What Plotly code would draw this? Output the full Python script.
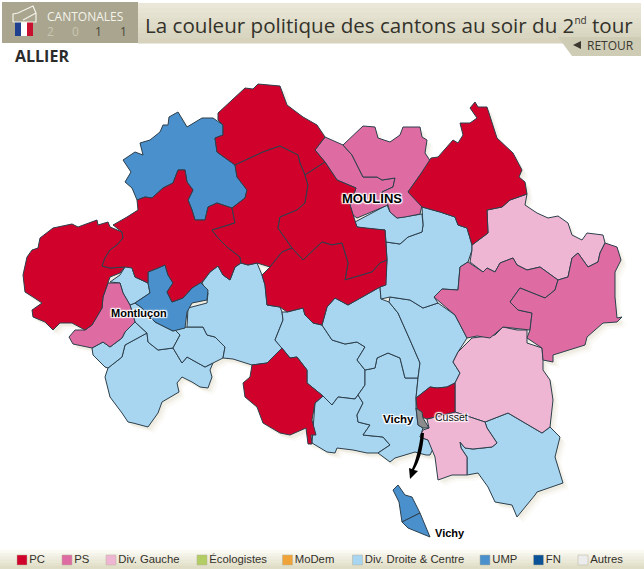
import plotly.graph_objects as go

# couleurs par nuance
PC = "#d0022b"
PS = "#de6ca3"
DVG = "#efb6d4"
ECO = "#b1cd63"
MODEM = "#efa338"
DVD = "#a8d5f0"
UMP = "#4a90cc"
FN = "#0b5296"
AUTRES = "#ececec"
VICHY_GRIS = "#8c8c8c"

# contours des cantons (x, y en pixels)
rouge_ouest = [(53,228),(72,224),(78,227),(97,220),(98,225),(108,222),(110,227),(122,232),(123,238),(117,245),(110,250),(105,258),(102,266),(110,268),(125,267),(120,273),(110,277),(108,283),(103,297),(102,308),(92,325),(85,330),(72,323),(60,323),(53,330),(45,322),(33,317),(32,310),(42,303),(33,297),(25,292),(23,275),(27,257),(32,250),(38,248),(40,238)]
rouge_centre_ouest = [(137,200),(138,210),(127,217),(113,225),(122,232),(123,238),(117,245),(110,250),(105,258),(102,266),(110,268),(125,267),(132,268),(135,277),(148,283),(148,272),(158,268),(165,265),(168,275),(173,283),(167,292),(172,302),(183,298),(192,288),(202,282),(210,272),(218,266),(223,275),(230,280),(235,267),(241,263),(240,257),(227,247),(218,238),(212,230),(227,225),(235,223),(232,208),(217,203),(208,207),(205,220),(195,220),(192,210),(188,200),(193,190),(187,182),(185,170),(178,170),(173,183),(163,188),(152,198),(145,197)]
ump_nord = [(178,112),(187,127),(202,118),(213,118),(223,125),(223,135),(215,138),(217,152),(235,165),(237,177),(247,190),(245,198),(232,208),(217,203),(208,207),(205,220),(195,220),(192,210),(188,200),(193,190),(187,182),(185,170),(178,170),(173,183),(163,188),(152,198),(145,197),(137,200),(132,188),(125,182),(131,172),(123,160),(135,152),(143,155),(140,143),(150,140),(160,132),(163,125),(168,125),(169,117)]
rouge_nord = [(218,113),(230,102),(245,88),(253,89),(258,84),(280,86),(283,95),(287,105),(303,117),(317,125),(325,137),(315,150),(325,162),(317,167),(305,175),(300,163),(298,155),(280,146),(263,152),(250,158),(235,165),(217,152),(215,138),(223,135),(223,125),(218,120)]
rouge_centre = [(235,165),(250,158),(263,152),(280,146),(298,155),(300,163),(305,175),(308,185),(305,203),(297,210),(280,217),(278,228),(292,248),(282,252),(270,267),(257,263),(248,265),(241,263),(240,257),(227,247),(218,238),(212,230),(227,225),(235,223),(232,208),(245,198),(247,190),(237,177)]
rouge_moulins = [(305,175),(317,167),(325,162),(337,180),(356,188),(350,205),(353,215),(357,227),(385,230),(387,260),(380,263),(372,272),(345,280),(348,263),(342,243),(332,245),(322,242),(303,260),(292,248),(278,228),(280,217),(297,210),(305,203),(308,185)]
rouge_sud = [(292,248),(303,260),(322,242),(332,245),(342,243),(348,263),(345,280),(372,272),(380,263),(387,260),(386,285),(380,287),(348,305),(335,298),(327,307),(322,325),(313,323),(305,315),(303,308),(287,312),(280,307),(267,305),(265,285),(262,275),(270,267),(282,252)]
ps_moulins = [(315,150),(325,137),(343,145),(352,155),(363,177),(377,177),(382,180),(395,178),(393,187),(382,192),(388,205),(357,218),(353,215),(350,205),(356,188),(337,180),(325,162)]
ps_nord = [(343,145),(363,126),(375,127),(378,138),(390,142),(400,135),(403,127),(420,127),(422,137),(427,140),(425,153),(431,162),(420,175),(408,192),(422,205),(420,214),(405,217),(397,218),(390,212),(388,205),(382,192),(393,187),(395,178),(382,180),(377,177),(363,177),(352,155)]
rouge_donjon = [(475,102),(478,107),(487,107),(492,123),(497,138),(513,153),(522,170),(519,177),(525,182),(527,194),(510,200),(502,207),(487,210),(488,233),(472,245),(467,228),(458,225),(455,217),(440,212),(422,207),(408,192),(420,175),(431,158),(438,157),(453,140),(458,143),(463,135),(460,123),(470,123),(477,118),(470,108)]
bleu_neuilly = [(355,222),(387,205),(390,212),(397,218),(422,214),(423,225),(422,232),(408,237),(400,244),(386,242),(385,230),(370,229),(357,227)]
bleu_varennes = [(422,207),(440,212),(455,217),(458,225),(467,228),(472,245),(472,250),(468,262),(460,267),(458,290),(442,289),(434,297),(438,303),(423,308),(410,300),(390,297),(381,299),(380,287),(385,285),(387,260),(386,242),(400,244),(408,237),(422,232),(423,225),(422,214)]
rose_jaligny = [(487,210),(502,207),(510,200),(527,194),(525,205),(537,213),(548,218),(558,216),(568,223),(572,235),(582,240),(587,233),(603,235),(605,243),(600,253),(598,262),(588,267),(578,253),(572,258),(568,277),(558,280),(547,272),(540,267),(527,270),(517,265),(513,258),(500,263),(495,272),(487,268),(483,272),(470,262),(472,250),(472,245),(488,233)]
ps_est = [(468,262),(483,272),(487,268),(495,272),(500,263),(513,258),(517,265),(527,270),(540,267),(547,272),(558,280),(555,290),(545,298),(520,288),(510,302),(518,310),(532,313),(530,330),(513,328),(503,327),(490,338),(477,336),(467,338),(455,315),(434,297),(442,289),(458,290),(460,267)]
ps_dompierre = [(605,243),(617,247),(621,260),(615,272),(615,297),(617,318),(622,317),(617,322),(603,323),(587,337),(585,345),(553,355),(553,362),(543,360),(542,348),(527,338),(530,330),(532,313),(518,310),(510,302),(520,288),(545,298),(555,290),(558,280),(568,277),(572,258),(578,253),(588,267),(598,262),(600,253)]
rose_lapalisse = [(458,352),(472,338),(495,335),(503,327),(517,330),(527,330),(527,343),(542,348),(543,360),(543,370),(550,380),(553,400),(550,427),(542,433),(508,413),(485,422),(455,412),(455,383),(460,373),(453,362)]
rouge_cusset = [(455,383),(455,412),(427,419),(422,417),(417,408),(416,398),(430,387),(437,388),(447,387)]
gris_vichy = [(416,408),(422,412),(423,418),(429,428),(423,428),(418,425)]
rose_cusset_sud = [(427,419),(455,412),(485,422),(487,428),(497,443),(492,447),(473,449),(465,448),(460,442),(461,448),(467,457),(467,475),(452,475),(438,480),(435,457),(428,440),(420,437),(423,430),(429,428)]
bleu_mayet = [(508,413),(542,433),(550,427),(560,437),(555,457),(563,483),(537,492),(535,495),(517,517),(512,505),(495,502),(488,487),(478,473),(467,475),(467,457),(461,448),(460,442),(465,448),(473,449),(492,447),(497,443),(487,428),(485,422)]
bleu_saint_pourcain = [(390,297),(410,300),(423,308),(438,303),(455,315),(467,338),(458,352),(453,362),(460,373),(455,383),(447,387),(437,388),(430,387),(416,398),(418,378),(420,363),(410,340),(405,328),(398,313),(389,302)]
bleu_chantelle = [(322,325),(332,340),(345,344),(357,342),(365,347),(357,360),(365,370),(375,368),(377,358),(388,353),(400,358),(405,378),(418,378),(420,363),(410,340),(405,328),(398,313),(389,302),(381,299),(380,287),(348,305),(335,298),(327,307)]
bleu_escurolles = [(365,370),(375,368),(377,358),(388,353),(400,358),(405,378),(418,378),(416,398),(416,408),(418,425),(423,428),(420,437),(428,440),(435,445),(430,455),(426,455),(415,452),(395,458),(390,462),(378,453),(390,445),(383,437),(363,435),(370,425),(358,422),(357,415),(363,403),(358,395),(365,385)]
bleu_gannat = [(323,396),(315,403),(312,443),(327,452),(335,453),(337,448),(353,450),(367,453),(378,453),(390,445),(383,437),(363,435),(370,425),(358,422),(357,415),(363,403),(358,395),(355,399),(338,397),(332,405)]
rouge_ebreuil = [(282,348),(290,358),(297,357),(307,370),(307,383),(323,396),(315,403),(312,420),(316,435),(311,435),(312,444),(308,444),(306,428),(290,435),(280,433),(263,423),(257,407),(245,397),(243,383),(250,377),(252,365),(267,363),(275,355)]
bleu_montmarault = [(202,283),(210,272),(218,266),(223,275),(230,280),(235,267),(241,263),(248,265),(257,263),(262,275),(265,285),(267,305),(280,307),(282,312),(283,320),(275,340),(282,348),(275,355),(267,363),(252,365),(233,359),(223,358),(225,347),(215,337),(207,335),(203,327),(187,327),(188,308),(207,303),(208,293)]
bleu_commentry = [(282,312),(287,312),(303,308),(305,315),(313,323),(322,325),(332,340),(345,344),(357,342),(365,347),(357,360),(365,370),(365,385),(358,395),(355,399),(338,397),(332,405),(323,396),(307,383),(307,370),(297,357),(290,358),(282,348),(275,340),(283,320)]
ump_montlucon = [(148,272),(148,283),(150,293),(135,303),(142,308),(155,322),(173,331),(185,328),(187,312),(192,303),(207,300),(208,290),(200,282),(192,288),(183,298),(172,302),(167,292),(173,283),(168,275),(165,265),(158,268)]
bleu_domerat = [(110,282),(120,275),(125,267),(128,262),(132,268),(135,277),(148,283),(150,293),(135,303),(130,305),(123,293),(120,283)]
ps_montlucon = [(110,283),(120,283),(123,293),(130,305),(135,322),(125,332),(122,338),(110,347),(103,342),(92,348),(73,344),(69,337),(75,330),(85,330),(92,325),(102,308),(103,297),(108,283)]
bleu_sud_1 = [(135,322),(130,305),(135,303),(142,308),(155,322),(173,331),(175,330),(180,335),(173,348),(158,350),(148,342),(147,333)]
bleu_sud_2 = [(92,348),(103,342),(110,347),(122,338),(125,332),(135,322),(147,333),(125,345),(122,357),(108,368),(105,367),(93,355)]
bleu_huriel = [(108,368),(122,357),(125,345),(147,333),(148,342),(158,350),(173,348),(182,363),(187,357),(205,367),(213,363),(210,370),(212,377),(208,388),(200,387),(192,382),(182,377),(177,383),(179,392),(162,402),(158,413),(148,427),(133,423),(128,422),(122,413),(110,397),(105,377)]
bleu_marcillat = [(175,330),(185,328),(187,327),(203,327),(207,335),(215,337),(225,347),(223,358),(213,363),(205,367),(187,357),(182,363),(173,348),(180,335)]
vichy_nord = [(393,490),(398,485),(405,495),(412,497),(420,513),(402,522),(399,502)]
vichy_sud = [(402,522),(420,513),(430,537),(408,528)]

cantons = [bleu_huriel, bleu_sud_2, bleu_sud_1, bleu_marcillat, bleu_domerat, bleu_montmarault, bleu_commentry,
           bleu_gannat, bleu_escurolles, bleu_chantelle, bleu_saint_pourcain, bleu_varennes, bleu_neuilly, bleu_mayet,
           rose_jaligny, rose_lapalisse, rose_cusset_sud, ps_est, ps_dompierre, ps_moulins, ps_nord, ps_montlucon,
           ump_nord, ump_montlucon, rouge_ouest, rouge_centre_ouest, rouge_nord, rouge_centre, rouge_moulins, rouge_sud,
           rouge_donjon, rouge_ebreuil, rouge_cusset, gris_vichy, vichy_nord, vichy_sud]
couleurs = [DVD] * 14 + [DVG] * 3 + [PS] * 5 + [UMP] * 2 + [PC] * 9 + [VICHY_GRIS, UMP, UMP]

# légende
legende_noms = ["PC", "PS", "Div. Gauche", "Écologistes", "MoDem", "Div. Droite & Centre", "UMP", "FN", "Autres"]
legende_couleurs = [PC, PS, DVG, ECO, MODEM, DVD, UMP, FN, AUTRES]
legende_x = [22, 67, 111, 202, 287.5, 357.5, 485, 538.5, 583]

fig = go.Figure()


def xy(points, dx=0, dy=0):
    pts = points + [points[0]]
    return [p[0] + dx for p in pts], [p[1] + dy for p in pts]


def bande(x0, x1, y0, y1, c0, c1, n=8):
    # pas de dégradé sur les shapes : petites bandes empilées
    for i in range(n):
        t = i / (n - 1)
        col = "rgb(%d,%d,%d)" % tuple(c0[k] + (c1[k] - c0[k]) * t for k in range(3))
        h = (y1 - y0) / n
        fig.add_shape(type="rect", x0=x0, x1=x1, y0=y0 + i * h, y1=y0 + (i + 1) * h + 0.5,
                      fillcolor=col, line_width=0, layer="below")


# entête
bande(138, 641, 3, 43, (234, 231, 216), (214, 210, 188))
fig.add_shape(type="rect", x0=2, x1=138, y0=2, y1=43, fillcolor="#a9a58f", line_width=0, layer="below")
fig.add_shape(type="path", path="M 558 37 L 641 37 L 641 56 L 572 56 Z", fillcolor="#cfccb6", line_width=0, layer="below")
# pied
bande(0, 644, 550, 569, (250, 249, 242), (224, 221, 198), n=6)

# ombre portée de la carte
for dx, dy, alpha in [(6, 6, 0.10), (4, 4, 0.14), (2, 3, 0.18)]:
    for poly in cantons[:-2]:
        x, y = xy(poly, dx, dy)
        fig.add_trace(go.Scatter(x=x, y=y, mode="lines", fill="toself", line_width=0,
                                 fillcolor="rgba(214,208,176,%s)" % alpha, hoverinfo="skip"))

for poly, col in zip(cantons, couleurs):
    x, y = xy(poly)
    fig.add_trace(go.Scatter(x=x, y=y, mode="lines", fill="toself", fillcolor=col,
                             line=dict(color="#2c3f4c", width=1), hoverinfo="skip"))

# légende en bas
fig.add_trace(go.Scatter(x=legende_x, y=[560] * len(legende_x), mode="markers+text",
                         marker=dict(symbol="square", size=10, color=legende_couleurs,
                                     line=dict(color="#b5b19a", width=0.5)),
                         text=legende_noms, textposition="middle right",
                         textfont=dict(family="Liberation Sans", size=11.3, color="#33312a"),
                         hoverinfo="skip"))

# icône urne + drapeau
for x0, x1, c in [(15, 21, "#1f3f8f"), (21, 27, "#ffffff"), (27, 33, "#c8102e")]:
    fig.add_shape(type="rect", x0=x0, x1=x1, y0=22, y1=36, fillcolor=c, line_width=0)
fig.add_shape(type="path", path="M 13 22 L 13 14 L 18 13 L 33 6 L 36 13 L 23 20 M 36 13 L 36 22 L 13 22",
              line=dict(color="#f4f3ea", width=1.2))
fig.add_shape(type="path", path="M 573 45 L 581 41 L 581 49 Z", fillcolor="#3a382f", line_width=0)

# flèche vers l'encart de Vichy
fig.add_shape(type="path", path="M 424 433 C 423 450 419 462 414 470 L 418 471 L 410 479 L 409 468 L 412 469 C 416 460 419 448 421 433 Z",
              fillcolor="#000000", line_width=0)

halo = "-1px -1px 1px #fff, 1px -1px 1px #fff, -1px 1px 1px #fff, 1px 1px 1px #fff, 0 0 3px #fff"


def texte(x, y, s, size, color, family="Liberation Sans", shadow=None, anchor="left", weight=None):
    x = x - 2 if anchor == "left" else x
    fig.add_annotation(x=x, y=y, text=s, showarrow=False, xanchor=anchor, yanchor="middle",
                       font=dict(size=size, color=color, family=family, shadow=shadow, weight=weight))


texte(145, 25, "La couleur politique des cantons au soir du 2<sup><span style='font-size:10px'>nd</span></sup> tour", 20.6, "#33322a", family="Open Sans", weight=500)
texte(47, 16, "CANTONALES", 12, "#f4f3ea", family="Open Sans")
annee = ["2", "0", "1", "1"]
annee_x = [50, 75, 98, 123]
annee_c = ["#c9c6b2", "#c9c6b2", "#4a4838", "#4a4838"]
for x, s, c in zip(annee_x, annee, annee_c):
    texte(x, 31, s, 12, c, family="Open Sans", anchor="center")
texte(587, 45, "RETOUR", 12, "#3a382f", family="Open Sans")
texte(15, 56, "ALLIER", 16, "#2b2b2b", family="Open Sans", weight="bold")

for x, y, s, sz in [(111, 313, "Montluçon", 11), (342, 198, "MOULINS", 13), (383, 419, "Vichy", 11.5), (435, 533, "Vichy", 11)]:
    texte(x, y, "<b>%s</b>" % s, sz, "#000000", shadow=halo)
texte(435, 417, "Cusset", 10.5, "#111111", shadow=halo)

fig.update_layout(width=644, height=569, margin=dict(l=0, r=0, t=0, b=0), showlegend=False,
                  plot_bgcolor="#ffffff", paper_bgcolor="#ffffff",
                  xaxis=dict(range=[0, 644], visible=False, fixedrange=True),
                  yaxis=dict(range=[569, 0], visible=False, fixedrange=True))

fig.write_html("out.html", config={"displayModeBar": False},
               post_script="document.body.style.margin='0';document.body.style.overflow='hidden';")
